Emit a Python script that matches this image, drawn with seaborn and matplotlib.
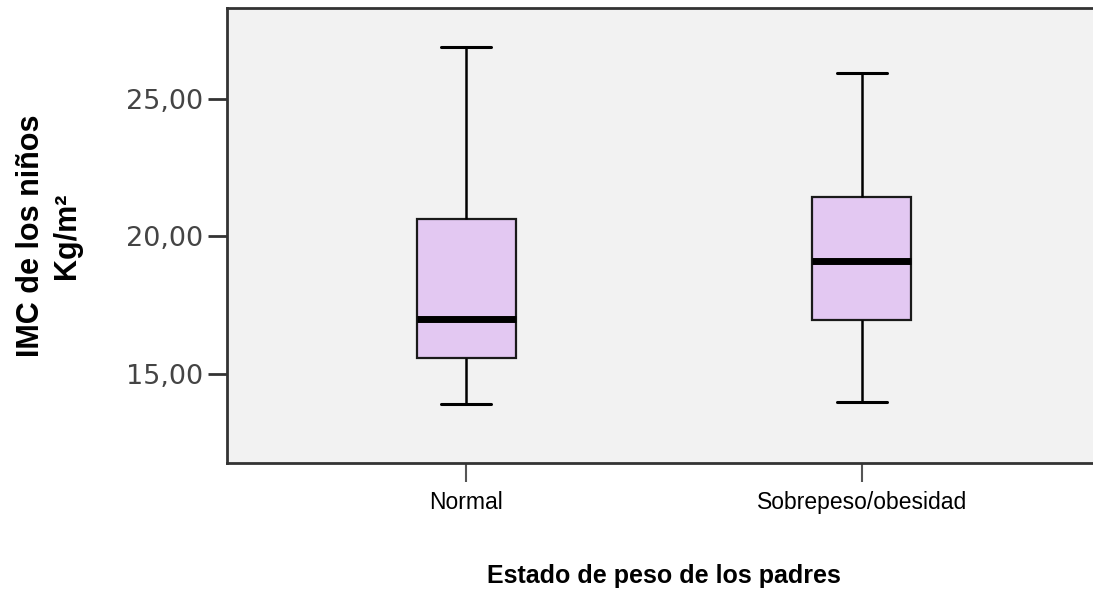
import numpy as np
import pandas as pd
import matplotlib
matplotlib.use("Agg")
import matplotlib.pyplot as plt
import seaborn as sns

# five-number summaries (min, Q1, median, Q3, max)
normal_vals = [13.9, 15.58, 16.98, 20.62, 26.9]
sobrepeso_vals = [13.98, 16.95, 19.09, 21.42, 25.95]
categories = ["Normal", "Sobrepeso/obesidad"]
y_ticks = [15, 20, 25]
y_tick_labels = ["15,00", "20,00", "25,00"]

df = pd.DataFrame({
    "grupo": [categories[0]] * len(normal_vals) + [categories[1]] * len(sobrepeso_vals),
    "imc": normal_vals + sobrepeso_vals,
})

sns.set_style("white")
plt.rcParams["font.family"] = ["Liberation Sans", "DejaVu Sans"]
plt.rcParams["text.color"] = "black"
plt.rcParams["axes.labelcolor"] = "black"

fig = plt.figure(figsize=(10.93, 5.97), dpi=100)
ax = fig.add_axes([0.2077, 0.2245, 0.7996, 0.7621])
ax.set_facecolor("#F2F2F2")

sns.boxplot(data=df, x="grupo", y="imc", order=categories, ax=ax,
            width=0.25, color="#E3C8F2", saturation=1, linecolor="#1a1a1a",
            linewidth=1.6, whis=10,
            medianprops=dict(color="black", linewidth=5),
            whiskerprops=dict(color="black", linewidth=1.8),
            capprops=dict(color="black", linewidth=2.2))

ax.set_xlim(-0.604, 1.604)
ax.set_ylim(11.76, 28.31)

ax.set_yticks(y_ticks)
ax.set_yticklabels(y_tick_labels)
ax.set_xticks(range(len(categories)))
ax.set_xticklabels(categories)
ax.tick_params(axis="y", length=14, width=2, color="#333333", pad=3, left=True)
ax.tick_params(axis="x", length=14, width=1.5, color="#555555", pad=6, bottom=True)

for lbl in ax.get_yticklabels():
    lbl.set_fontfamily("DejaVu Sans")
    lbl.set_fontsize(19.5)
    lbl.set_color("#444444")
for lbl in ax.get_xticklabels():
    lbl.set_fontsize(16.5)
    lbl.set_color("black")

for side in ["left", "top", "bottom"]:
    ax.spines[side].set_visible(True)
    ax.spines[side].set_color("#333333")
    ax.spines[side].set_linewidth(2)
ax.spines["right"].set_visible(False)

ax.set_xlabel("Estado de peso de los padres", fontsize=18, fontweight="bold",
              labelpad=36)
ax.set_ylabel("IMC de los niños\nKg/m²", fontsize=22, fontweight="bold",
              linespacing=1.25, labelpad=32)

fig.savefig("out.png", dpi=100)
